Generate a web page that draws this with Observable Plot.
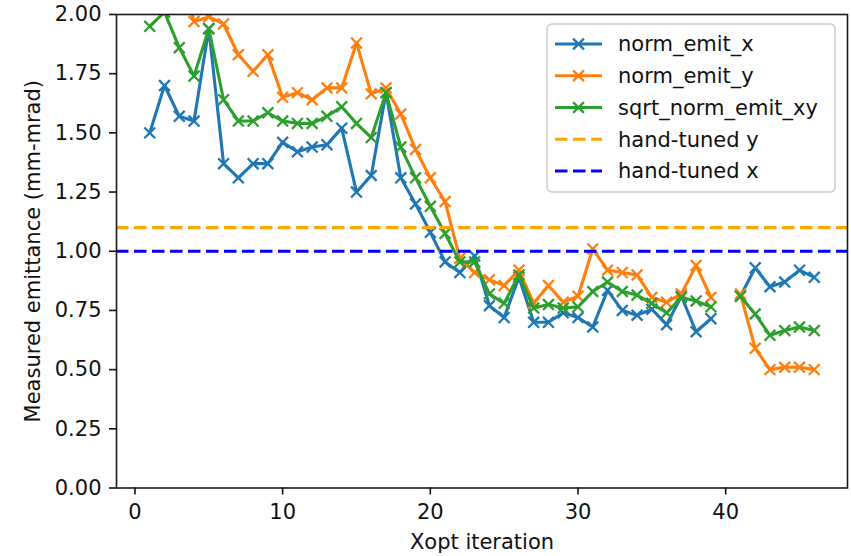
<!DOCTYPE html>
<html>
<head>
<meta charset="utf-8">
<script src="https://cdn.jsdelivr.net/npm/d3@7"></script>
<script src="https://cdn.jsdelivr.net/npm/@observablehq/plot@0.6"></script>
<style>
  html, body { margin: 0; padding: 0; background: #fff; }
  #chart svg { display: block; }
</style>
</head>
<body>
<div id="chart"></div>
<script>
// ---- data ----
const iterations = [1,2,3,4,5,6,7,8,9,10,11,12,13,14,15,16,17,18,19,20,21,22,23,24,25,26,27,28,29,30,31,32,33,34,35,36,37,38,39,40,41,42,43,44,45,46];

const normEmitX = [1.50,1.70,1.57,1.55,1.94,1.37,1.31,1.37,1.37,1.46,1.42,1.44,1.45,1.52,1.25,1.32,1.67,1.31,1.20,1.08,
  0.955,0.91,0.98,0.77,0.72,0.89,0.70,0.70,0.74,0.72,0.68,0.835,0.75,0.73,0.755,0.69,0.81,0.66,0.715,null,
  0.81,0.93,0.85,0.87,0.92,0.89];

const normEmitY = [2.53,2.38,2.20,1.97,1.99,1.96,1.83,1.76,1.83,1.65,1.67,1.64,1.69,1.69,1.88,1.665,1.69,1.58,1.43,1.31,
  1.21,0.97,0.91,0.88,0.855,0.92,0.78,0.855,0.785,0.81,1.01,0.92,0.91,0.90,0.805,0.785,0.82,0.94,0.805,null,
  0.82,0.59,0.50,0.51,0.51,0.50];

const sqrtNormEmitXY = [1.95,2.01,1.86,1.74,1.94,1.64,1.55,1.55,1.585,1.55,1.54,1.54,1.57,1.61,1.54,1.48,1.67,1.44,1.31,1.19,
  1.075,0.955,0.955,0.82,0.78,0.90,0.76,0.775,0.76,0.765,0.83,0.87,0.83,0.815,0.78,0.74,0.805,0.79,0.765,null,
  0.81,0.735,0.645,0.665,0.68,0.665];

const seriesNames = ["norm_emit_x", "norm_emit_y", "sqrt_norm_emit_xy"];
const seriesValues = [normEmitX, normEmitY, sqrtNormEmitXY];
const seriesColors = ["#1f77b4", "#ff7f0e", "#2ca02c"];

const handTunedNames = ["hand-tuned y", "hand-tuned x"];
const handTunedValues = [1.10, 1.00];
const handTunedColors = ["orange", "blue"];

const xTicks = [0, 10, 20, 30, 40];
const yTicks = [0.00, 0.25, 0.50, 0.75, 1.00, 1.25, 1.50, 1.75, 2.00];

const xLabel = "Xopt iteration";
const yLabel = "Measured emittance (mm-mrad)";

// ---- build ----
const FONT = "DejaVu Sans";
const FS = 21;
const LW = 3.1;
const DASH = "12.5,5.5";
const MR = 5;

const seriesRows = seriesValues.map((vals, s) =>
  iterations.map((it, i) => ({series: seriesNames[s], x: it, y: vals[i] == null ? NaN : vals[i]}))
);

const marks = [];
seriesRows.forEach((rows, s) => {
  marks.push(Plot.line(rows, {x: "x", y: "y", stroke: seriesColors[s], strokeWidth: LW, clip: true}));
  marks.push(Plot.dot(rows.filter(d => Number.isFinite(d.y)), {x: "x", y: "y", symbol: "times", r: MR,
    stroke: seriesColors[s], strokeWidth: 2.3, clip: true}));
});
handTunedValues.forEach((v, k) => {
  marks.push(Plot.ruleY([v], {stroke: handTunedColors[k], strokeWidth: LW, strokeDasharray: DASH}));
});
marks.push(Plot.frame({stroke: "#1a1a1a", strokeWidth: 1.6}));
marks.push(Plot.axisX({ticks: xTicks, tickSize: 7, tickPadding: 9, fontSize: FS, label: null, strokeWidth: 1.6, tickFormat: d3.format("d")}));
marks.push(Plot.axisY({ticks: yTicks, tickSize: 7, tickPadding: 8, fontSize: FS, label: null, strokeWidth: 1.6, tickFormat: d3.format(".2f")}));
marks.push(Plot.text([xLabel], {text: d => d, frameAnchor: "bottom", textAnchor: "middle", lineAnchor: "middle", dy: 54, fontSize: FS, fill: "#111"}));
marks.push(Plot.text([yLabel], {text: d => d, frameAnchor: "left", textAnchor: "middle", lineAnchor: "middle", dx: -83, rotate: -90, fontSize: FS, fill: "#111"}));

const chart = Plot.plot({
  width: 851,
  height: 556,
  marginLeft: 116,
  marginRight: 4,
  marginTop: 14,
  marginBottom: 68.5,
  style: {fontFamily: FONT, fontSize: FS + "px", background: "#fff", color: "#111"},
  x: {domain: [-1.25, 48.25]},
  y: {domain: [0, 2]},
  marks
});
document.getElementById("chart").appendChild(chart);

// ---- legend (inside the axes, upper right) ----
const svg = d3.select(chart);
const lg = svg.append("g").attr("font-family", FONT).attr("font-size", FS).attr("text-anchor", "start");
lg.append("rect")
  .attr("x", 547).attr("y", 24).attr("width", 288).attr("height", 168).attr("rx", 5)
  .attr("fill", "white").attr("fill-opacity", 0.8).attr("stroke", "#cccccc").attr("stroke-width", 1.5);

const legendItems = [
  ...seriesNames.map((n, s) => ({label: n, color: seriesColors[s], dashed: false})),
  ...handTunedNames.map((n, k) => ({label: n, color: handTunedColors[k], dashed: true}))
];
const timesPath = d3.symbol(d3.symbolTimes, Math.PI * MR * MR)();
legendItems.forEach((item, i) => {
  const cy = 44 + i * 31.75;
  const line = lg.append("line").attr("x1", 555).attr("x2", 602).attr("y1", cy).attr("y2", cy)
    .attr("stroke", item.color).attr("stroke-width", LW);
  if (item.dashed) line.attr("stroke-dasharray", DASH);
  else lg.append("path").attr("d", timesPath).attr("transform", `translate(578.5,${cy})`)
    .attr("fill", "none").attr("stroke", item.color).attr("stroke-width", 2.3);
  lg.append("text").attr("x", 618).attr("y", cy).attr("dy", "0.35em").attr("text-anchor", "start")
    .attr("fill", "#111").text(item.label);
});
</script>
</body>
</html>
